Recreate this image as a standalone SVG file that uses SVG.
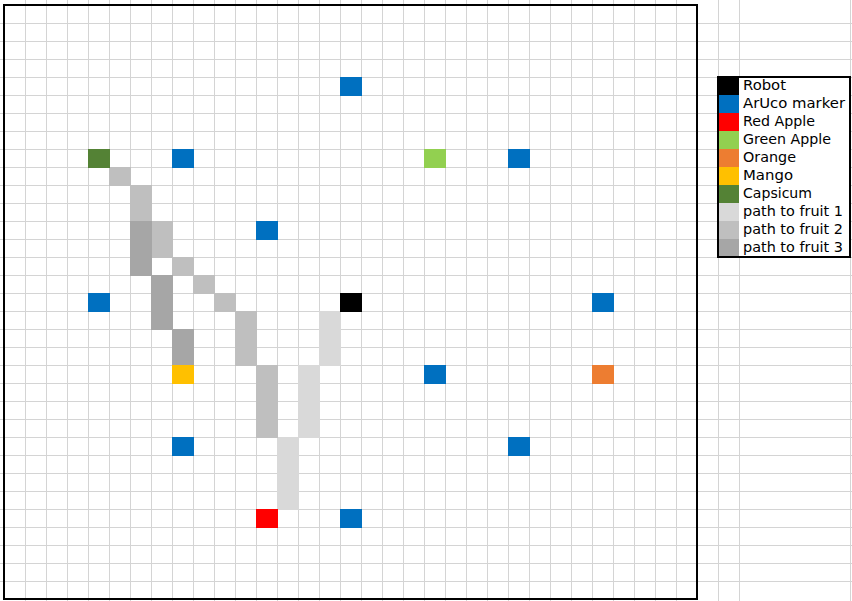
<svg xmlns="http://www.w3.org/2000/svg" width="852" height="601" viewBox="0 0 852 601">
<style>
.grid{stroke:#D4D4D4;stroke-width:1;fill:none}
.aruco{fill:#0070C0}.robot{fill:#000000}.red{fill:#FF0000}.green{fill:#92D050}.orange{fill:#ED7D31}.mango{fill:#FFC000}.caps{fill:#548235}
.p1{fill:#D9D9D9}.p2{fill:#BFBFBF}.p3{fill:#A6A6A6}
.lt{font-family:"DejaVu Sans","Liberation Sans",sans-serif;font-size:14px;fill:#000}
</style>
<rect x="0" y="0" width="852" height="601" fill="#FFFFFF"/>
<path class="grid" d="M25.5 0V601M46.5 0V601M67.5 0V601M88.5 0V601M109.5 0V601M130.5 0V601M151.5 0V601M172.5 0V601M193.5 0V601M214.5 0V601M235.5 0V601M256.5 0V601M277.5 0V601M298.5 0V601M319.5 0V601M340.5 0V601M361.5 0V601M382.5 0V601M403.5 0V601M424.5 0V601M445.5 0V601M466.5 0V601M487.5 0V601M508.5 0V601M529.5 0V601M550.5 0V601M571.5 0V601M592.5 0V601M613.5 0V601M634.5 0V601M655.5 0V601M676.5 0V601M718.5 0V601M739.5 0V601M850.5 0V601
M0 23.5H852M0 41.5H852M0 59.5H852M0 77.5H852M0 95.5H852M0 113.5H852M0 131.5H852M0 149.5H852M0 167.5H852M0 185.5H852M0 203.5H852M0 221.5H852M0 239.5H852M0 257.5H852M0 275.5H852M0 293.5H852M0 311.5H852M0 329.5H852M0 347.5H852M0 365.5H852M0 383.5H852M0 401.5H852M0 419.5H852M0 437.5H852M0 455.5H852M0 473.5H852M0 491.5H852M0 509.5H852M0 527.5H852M0 545.5H852M0 563.5H852M0 581.5H852"/>
<g id="path-fruit-1">
<rect class="p1" x="319" y="311" width="22" height="55"/>
<rect class="p1" x="298" y="365" width="22" height="73"/>
<rect class="p1" x="277" y="437" width="22" height="73"/>
</g>
<g id="path-fruit-2">
<rect class="p2" x="109" y="167" width="22" height="19"/>
<rect class="p2" x="130" y="185" width="22" height="37"/>
<rect class="p2" x="151" y="221" width="22" height="37"/>
<rect class="p2" x="172" y="257" width="22" height="19"/>
<rect class="p2" x="193" y="275" width="22" height="19"/>
<rect class="p2" x="214" y="293" width="22" height="19"/>
<rect class="p2" x="235" y="311" width="22" height="55"/>
<rect class="p2" x="256" y="365" width="22" height="73"/>
</g>
<g id="path-fruit-3">
<rect class="p3" x="130" y="221" width="22" height="55"/>
<rect class="p3" x="151" y="275" width="22" height="55"/>
<rect class="p3" x="172" y="329" width="22" height="37"/>
</g>
<g id="aruco-markers">
<rect class="aruco" x="340" y="77" width="22" height="19"/>
<rect class="aruco" x="172" y="149" width="22" height="19"/>
<rect class="aruco" x="508" y="149" width="22" height="19"/>
<rect class="aruco" x="256" y="221" width="22" height="19"/>
<rect class="aruco" x="88" y="293" width="22" height="19"/>
<rect class="aruco" x="592" y="293" width="22" height="19"/>
<rect class="aruco" x="424" y="365" width="22" height="19"/>
<rect class="aruco" x="172" y="437" width="22" height="19"/>
<rect class="aruco" x="508" y="437" width="22" height="19"/>
<rect class="aruco" x="340" y="509" width="22" height="19"/>
</g>
<g id="robot"><rect class="robot" x="340" y="293" width="22" height="19"/></g>
<g id="capsicum"><rect class="caps" x="88" y="149" width="22" height="19"/></g>
<g id="green-apple"><rect class="green" x="424" y="149" width="22" height="19"/></g>
<g id="orange"><rect class="orange" x="592" y="365" width="22" height="19"/></g>
<g id="mango"><rect class="mango" x="172" y="365" width="22" height="19"/></g>
<g id="red-apple"><rect class="red" x="256" y="509" width="22" height="19"/></g>
<rect x="4" y="5" width="693" height="594" fill="none" stroke="#000" stroke-width="2"/>
<g id="legend">
<rect x="718" y="77" width="132" height="180" fill="#FFFFFF"/>
<rect class="robot" x="718" y="77" width="21" height="18"/>
<rect class="aruco" x="718" y="95" width="21" height="18"/>
<rect class="red" x="718" y="113" width="21" height="18"/>
<rect class="green" x="718" y="131" width="21" height="18"/>
<rect class="orange" x="718" y="149" width="21" height="18"/>
<rect class="mango" x="718" y="167" width="21" height="18"/>
<rect class="caps" x="718" y="185" width="21" height="18"/>
<rect class="p1" x="718" y="203" width="21" height="18"/>
<rect class="p2" x="718" y="221" width="21" height="18"/>
<rect class="p3" x="718" y="239" width="21" height="18"/>
<text class="lt" x="743" y="89.5" textLength="43" lengthAdjust="spacingAndGlyphs">Robot</text>
<text class="lt" x="743" y="107.5" textLength="102" lengthAdjust="spacingAndGlyphs">ArUco marker</text>
<text class="lt" x="743" y="125.5" textLength="72" lengthAdjust="spacingAndGlyphs">Red Apple</text>
<text class="lt" x="743" y="143.5" textLength="88" lengthAdjust="spacingAndGlyphs">Green Apple</text>
<text class="lt" x="743" y="161.5" textLength="53" lengthAdjust="spacingAndGlyphs">Orange</text>
<text class="lt" x="743" y="179.5" textLength="50" lengthAdjust="spacingAndGlyphs">Mango</text>
<text class="lt" x="743" y="197.5" textLength="69" lengthAdjust="spacingAndGlyphs">Capsicum</text>
<text class="lt" x="743" y="215.5" textLength="100" lengthAdjust="spacingAndGlyphs">path to fruit 1</text>
<text class="lt" x="743" y="233.5" textLength="100" lengthAdjust="spacingAndGlyphs">path to fruit 2</text>
<text class="lt" x="743" y="251.5" textLength="100" lengthAdjust="spacingAndGlyphs">path to fruit 3</text>
<rect x="718" y="77" width="132" height="180" fill="none" stroke="#000" stroke-width="2"/>
</g>
</svg>
